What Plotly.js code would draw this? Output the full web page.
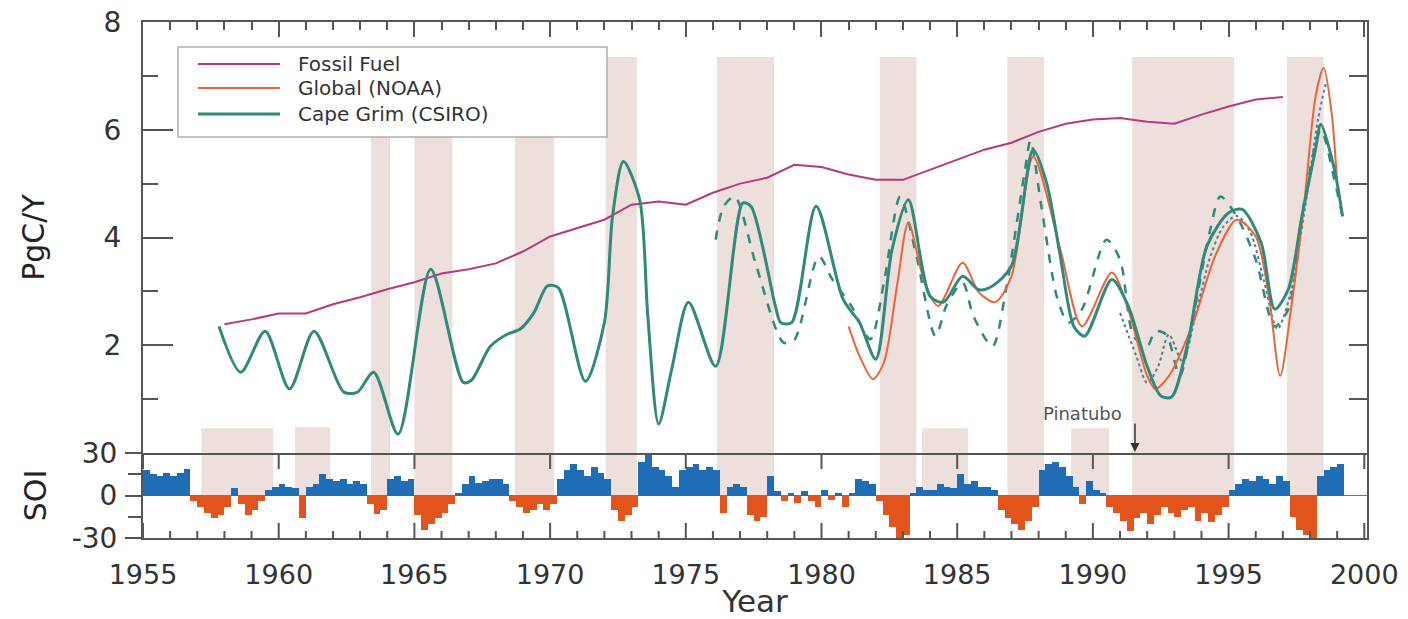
<!DOCTYPE html>
<html>
<head>
<meta charset="utf-8">
<script src="https://cdn.plot.ly/plotly-3.0.1.min.js"></script>
<style>
  html, body { margin: 0; padding: 0; background: #ffffff; }
  #chart { width: 1408px; height: 619px; }
</style>
</head>
<body>
<div id="chart"></div>
<script>
// ---------------- DATA ----------------
const fossilYears = [1958,1959,1960,1961,1962,1963,1964,1965,1966,1967,1968,1969,1970,1971,1972,1973,1974,1975,1976,1977,1978,1979,1980,1981,1982,1983,1984,1985,1986,1987,1988,1989,1990,1991,1992,1993,1994,1995,1996,1997];
const fossilValues = [2.39,2.48,2.59,2.59,2.76,2.89,3.04,3.17,3.33,3.41,3.52,3.74,4.02,4.17,4.33,4.61,4.67,4.61,4.83,5.00,5.11,5.35,5.31,5.17,5.07,5.07,5.26,5.44,5.63,5.76,5.96,6.11,6.19,6.22,6.15,6.11,6.28,6.43,6.56,6.61];

const capeGrimYears = [1957.8,1958.6,1959.5,1960.4,1961.3,1962.4,1962.9,1963.5,1964.4,1965.6,1966.8,1967.1,1967.8,1968.4,1968.9,1969.4,1969.9,1970.3,1971.3,1972.0,1972.3,1972.7,1973.3,1973.6,1974.0,1974.5,1975.1,1976.1,1977.1,1977.4,1978.3,1978.5,1978.9,1979.8,1980.8,1981.4,1982.0,1982.6,1983.2,1984.0,1984.5,1985.2,1985.8,1986.3,1987.0,1987.8,1988.3,1988.8,1989.3,1989.7,1990.7,1991.3,1992.0,1992.5,1992.9,1993.5,1994.2,1995.0,1995.5,1996.2,1996.7,1997.2,1997.7,1998.2,1998.4,1998.9,1999.2];
const capeGrimValues = [2.35,1.50,2.26,1.19,2.26,1.13,1.13,1.50,0.35,3.41,1.31,1.35,1.98,2.20,2.30,2.60,3.10,3.07,1.33,2.42,4.39,5.41,4.70,2.54,0.54,1.60,2.80,1.61,4.64,4.58,2.73,2.42,2.42,4.58,2.85,2.42,1.74,3.78,4.70,2.91,2.80,3.28,3.03,3.10,3.47,5.63,5.00,3.65,2.35,2.17,3.22,2.73,1.61,1.06,1.04,2.05,3.84,4.46,4.52,3.90,2.67,3.04,4.39,5.63,6.10,5.26,4.39];

const capeGrimAltYears = [1976.1,1976.4,1976.8,1977.6,1978.6,1979.0,1979.9,1980.4,1981.1,1981.8,1982.3,1982.9,1983.5,1984.2,1984.6,1985.2,1985.6,1986.3,1986.8,1987.5,1987.7,1988.1,1988.7,1989.1,1989.6,1990.5,1991.0,1991.5,1992.0,1992.3,1992.7,1993.2,1993.7,1994.3,1994.7,1995.3,1996.0,1996.7,1997.2,1997.8,1998.4,1998.9,1999.2];
const capeGrimAltValues = [3.96,4.58,4.76,3.47,2.05,2.10,3.65,3.22,2.73,2.11,3.16,4.76,3.65,2.17,2.73,3.16,2.54,1.98,3.04,5.26,5.80,4.58,2.85,2.42,2.67,3.96,3.59,2.17,1.98,2.26,2.20,1.43,2.54,4.09,4.76,4.39,3.59,2.35,2.67,4.70,6.00,5.07,4.39];

const noaaYears = [1981.0,1981.4,1981.9,1982.3,1982.8,1983.2,1983.8,1984.3,1985.2,1985.8,1986.4,1987.0,1987.8,1988.8,1989.6,1990.7,1991.3,1992.0,1992.3,1992.8,1993.7,1994.5,1995.3,1996.0,1996.5,1996.9,1997.3,1997.8,1998.2,1998.5,1998.8,1999.0];
const noaaValues = [2.35,1.80,1.37,1.68,3.16,4.28,3.16,2.73,3.53,2.98,2.80,3.28,5.50,3.78,2.35,3.35,2.67,1.43,1.19,1.43,2.42,3.65,4.33,4.02,2.85,1.43,2.67,4.70,6.60,7.15,6.30,5.00];

const dottedYears = [1991.0,1991.6,1992.0,1992.4,1992.8,1993.3,1993.8,1994.3,1994.8,1995.3,1995.8,1996.3,1996.8,1997.3,1997.8,1998.3,1998.6];
const dottedValues = [2.60,1.80,1.30,1.60,2.20,1.70,2.60,3.60,4.20,4.40,4.10,3.20,2.30,3.00,4.50,6.20,6.90];

// Southern Oscillation Index, quarterly, one row per year starting at soiFirstYear
const soiFirstYear = 1955;
const soiQuarterly = [
  [18,15,14,16],[14,16,19,-4],[-8,-12,-16,-14],[-8,5,-6,-14],[-10,-4,4,6],
  [8,6,5,-16],[6,8,15,12],[10,12,8,10],[8,-6,-13,-10],[12,14,10,12],
  [-14,-24,-20,-16],[-12,-6,2,8],[14,9,10,12],[12,8,-4,-8],[-12,-10,-6,-10],
  [-6,12,18,22],[18,14,20,16],[12,-10,-18,-14],[-8,24,30,20],[18,14,6,18],
  [20,22,18,20],[18,-12,6,8],[6,-14,-18,-15],[14,3,-4,2],[-5,3,-4,-8],
  [4,-3,2,-8],[2,12,10,8],[-4,-14,-22,-30],[-28,2,6,4],[4,8,6,5],
  [15,8,10,6],[6,4,-10,-16],[-20,-24,-18,-8],[18,22,24,20],[14,6,-6,10],
  [4,2,-8,-12],[-18,-25,-16,-12],[-20,-14,-8,-12],[-15,-10,-8,-18],[-12,-19,-14,-8],
  [4,8,12,10],[14,12,8,14],[10,-15,-24,-28],[-30,14,18,20],[22]
];

// El Nino shading periods
const ensoStart = [1957.15,1960.6,1963.4,1965.0,1968.7,1972.05,1976.15,1982.15,1983.7,1986.85,1989.2,1991.45,1997.15];
const ensoEnd   = [1959.8,1961.9,1964.1,1966.4,1970.15,1973.2,1978.25,1983.5,1985.4,1988.2,1990.6,1995.2,1998.5];
const ensoTop   = [0.46,0.48,7.35,7.35,7.35,7.35,7.35,7.35,0.46,7.35,0.46,7.35,7.35];

const xTickVals = [1955,1960,1965,1970,1975,1980,1985,1990,1995,2000];
const legendNames = ['Fossil Fuel','Global (NOAA)','Cape Grim (CSIRO)'];

// ---------------- STYLE ----------------
const C_FOSSIL = '#b53a80';
const C_NOAA = '#e8653d';
const C_CSIRO = '#2f8a7a';
const C_DOT = '#4f7f96';
const C_POS = '#1f6db5';
const C_NEG = '#e2541c';
const C_SHADE = '#eddfdb';
const C_AXIS = '#555555';
const FONT = 'DejaVu Sans, Liberation Sans, sans-serif';
const XR = [1955, 2000.1];

const soiX = [], soiY = [], soiC = [];
soiQuarterly.forEach((row, i) => {
  row.forEach((v, q) => {
    soiX.push(soiFirstYear + i + q * 0.25 + 0.125);
    soiY.push(v);
    soiC.push(v >= 0 ? C_POS : C_NEG);
  });
});

const emptyTrace = (xa, ya) => ({type:'scatter', mode:'lines', x: [], y: [], xaxis: xa, yaxis: ya, showlegend:false, hoverinfo:'skip'});

const traces = [
  {type:'bar', x: soiX, y: soiY, width: 0.25, xaxis:'x', yaxis:'y2',
   marker:{color: soiC, line:{width:0}}, showlegend:false},
  {type:'scatter', mode:'lines', x: fossilYears, y: fossilValues, xaxis:'x2', yaxis:'y',
   name: legendNames[0], line:{color:C_FOSSIL, width:2}, showlegend:false},
  {type:'scatter', mode:'lines', x: capeGrimAltYears, y: capeGrimAltValues, xaxis:'x2', yaxis:'y',
   name: 'Cape Grim (CSIRO) alt', line:{color:C_CSIRO, width:2.5, dash:'dash', shape:'spline', smoothing:0.8}, showlegend:false},
  {type:'scatter', mode:'lines', x: dottedYears, y: dottedValues, xaxis:'x2', yaxis:'y',
   name: 'dotted', line:{color:C_DOT, width:2, dash:'dot', shape:'spline', smoothing:0.8}, showlegend:false},
  {type:'scatter', mode:'lines', x: noaaYears, y: noaaValues, xaxis:'x2', yaxis:'y',
   name: legendNames[1], line:{color:C_NOAA, width:2, shape:'spline', smoothing:0.8}, showlegend:false},
  {type:'scatter', mode:'lines', x: capeGrimYears, y: capeGrimValues, xaxis:'x2', yaxis:'y',
   name: legendNames[2], line:{color:C_CSIRO, width:3, shape:'spline', smoothing:0.8}, showlegend:false},
  // empty traces so that the frame axes (top / right) get drawn
  emptyTrace('x3', 'y'),
  emptyTrace('x2', 'y3')
];

const shapes = [];
ensoStart.forEach((s, i) => {
  shapes.push({type:'rect', xref:'x2', yref:'y', x0:s, x1:ensoEnd[i], y0:0, y1:ensoTop[i],
               fillcolor:C_SHADE, line:{width:0}, layer:'below'});
  shapes.push({type:'rect', xref:'x', yref:'y2', x0:s, x1:ensoEnd[i], y0:0, y1:30,
               fillcolor:C_SHADE, line:{width:0}, layer:'below'});
});

// x tick marks on the SOI bottom frame (pointing up) and under the divider (pointing down),
// drawn as pixel-length line shapes anchored on the axis values
const tickLine = (xv, yanchor, len) => ({type:'line', xref:'x', yref:'y2', ysizemode:'pixel', yanchor: yanchor,
  x0: xv, x1: xv, y0: 0, y1: len, line:{color:C_AXIS, width:2}, layer:'above'});
for (let yr = xTickVals[0]; yr <= xTickVals[xTickVals.length - 1]; yr++) {
  const major = xTickVals.indexOf(yr) >= 0;
  shapes.push(tickLine(yr, -30, major ? 15 : 7));
  if (major) shapes.push(tickLine(yr, 30, -16));
}

// legend box (drawn manually to mimic wide boxed legend)
const L = 143, R = 1367, T = 22, B = 538;
const px = v => (v - L) / (R - L);
const py = v => (B - v) / (B - T);
shapes.push({type:'rect', xref:'paper', yref:'paper', x0:px(178), x1:px(607), y0:py(137), y1:py(47),
             fillcolor:'#ffffff', line:{color:'#b0b0b0', width:1.5}, layer:'above'});
const legColors = [C_FOSSIL, C_NOAA, C_CSIRO];
const legRows = [64, 88, 114];
const annotations = [];
legColors.forEach((c, i) => {
  shapes.push({type:'line', xref:'paper', yref:'paper', x0:px(198), x1:px(280), y0:py(legRows[i]), y1:py(legRows[i]),
               line:{color:c, width: i === 2 ? 3 : 2}, layer:'above'});
  annotations.push({xref:'paper', yref:'paper', x:px(296), y:py(legRows[i]), xanchor:'left', yanchor:'middle',
                    text: legendNames[i], showarrow:false, font:{family:FONT, size:20, color:'#333'}});
});

annotations.push({xref:'x2', yref:'y', x:1989.6, y:0.74, text:'Pinatubo', showarrow:false,
                  xanchor:'center', yanchor:'middle', font:{family:FONT, size:18, color:'#555'}});
annotations.push({xref:'x2', yref:'y', x:1991.55, y:0.02, ax:0, ay:-30, text:'', showarrow:true,
                  arrowhead:2, arrowsize:1.2, arrowwidth:1.5, arrowcolor:'#333'});

const axisCommon = {showline:true, linecolor:C_AXIS, linewidth:2, tickcolor:C_AXIS, tickwidth:2,
                    showgrid:false, zeroline:false, fixedrange:true};

const layout = {
  width:1408, height:619,
  margin:{l:L, r:1408-R, t:T, b:619-B},
  paper_bgcolor:'#ffffff', plot_bgcolor:'rgba(0,0,0,0)',
  showlegend:false,
  font:{family:FONT, color:'#333'},
  xaxis: Object.assign({}, axisCommon, {
    anchor:'y2', domain:[0,1], range:XR,
    tickmode:'array', tickvals:xTickVals, ticks:'',
    tickfont:{family:FONT, size:27, color:'#333'}, ticklabelstandoff:12,
    title:{text:'Year', font:{family:FONT, size:31, color:'#333'}, standoff:12}
  }),
  xaxis2: Object.assign({}, axisCommon, {
    anchor:'y', domain:[0,1], range:XR, showticklabels:false, ticks:''
  }),
  xaxis3: Object.assign({}, axisCommon, {
    anchor:'y', overlaying:'x2', side:'top', range:XR, showticklabels:false,
    tickmode:'array', tickvals:xTickVals, ticks:'inside', ticklen:15,
    minor:{tickmode:'linear', tick0:1955, dtick:1, ticks:'inside', ticklen:8, tickwidth:2, tickcolor:C_AXIS}
  }),
  yaxis: Object.assign({}, axisCommon, {
    anchor:'x2', domain:[(B-453)/(B-T), 1], range:[0,8],
    tickmode:'array', tickvals:[2,4,6,8], ticks:'inside', ticklen:30,
    minor:{tickmode:'linear', tick0:1, dtick:2, ticks:'inside', ticklen:15, tickwidth:2, tickcolor:C_AXIS},
    tickfont:{family:FONT, size:28, color:'#333'}, ticklabelstandoff:14,
    title:{text:'PgC/Y', font:{family:FONT, size:30, color:'#222'}, standoff:50}
  }),
  yaxis3: Object.assign({}, axisCommon, {
    anchor:'x2', overlaying:'y', side:'right', range:[0,8], showticklabels:false,
    tickmode:'array', tickvals:[1,2,3,4,5,6,7], ticks:'inside', ticklen:18
  }),
  yaxis2: Object.assign({}, axisCommon, {
    anchor:'x', domain:[0,(B-453)/(B-T)], range:[-30,30], mirror:true,
    tickmode:'array', tickvals:[-30,0,30], ticktext:['-30','0','30'], ticks:'outside', ticklen:16,
    minor:{tickmode:'linear', tick0:-15, dtick:30, ticks:'outside', ticklen:13, tickwidth:2, tickcolor:C_AXIS},
    zeroline:true, zerolinecolor:'#777', zerolinewidth:1.5,
    tickfont:{family:FONT, size:28, color:'#333'}, ticklabelstandoff:2,
    title:{text:'SOI', font:{family:FONT, size:30, color:'#222'}, standoff:16}
  }),
  shapes: shapes,
  annotations: annotations,
  bargap:0
};

Plotly.newPlot('chart', traces, layout, {displayModeBar:false, staticPlot:true});
</script>
</body>
</html>
